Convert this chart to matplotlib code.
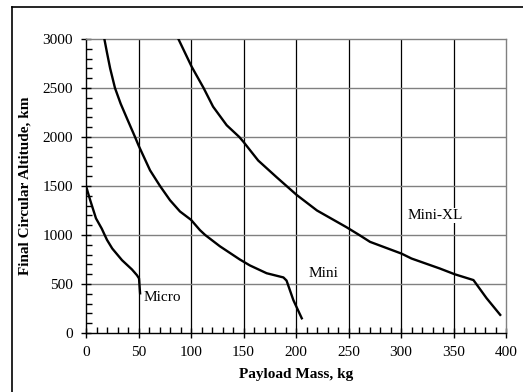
import matplotlib
matplotlib.use('Agg')
import matplotlib.pyplot as plt
from matplotlib.lines import Line2D
from matplotlib.ticker import MultipleLocator

plt.rcParams['font.family'] = ['Liberation Serif', 'DejaVu Serif']

# payload mass (kg) vs final circular altitude (km)
micro_x = [0, 4, 9.5, 15, 17.8, 20, 25, 34.3, 43.8, 48.5, 50.5, 51, 51.5]
micro_y = [1500, 1355, 1170, 1065, 1000, 950, 862, 743, 648, 590, 557, 480, 405]

mini_x = [17.5, 20, 23, 27.6, 33, 39, 46.7, 50, 61, 70.5, 80, 89.5, 100,
          108.5, 113.5, 127.5, 146.5, 156, 172, 188, 191, 197.5, 205.5]
mini_y = [3000, 2860, 2700, 2500, 2340, 2190, 2000, 1915, 1660, 1500, 1355,
          1240, 1155, 1050, 1000, 885, 750, 690, 610, 567, 535, 335, 150]

minixl_x = [88, 100.5, 112, 121, 134, 146, 150, 164, 181.5, 191, 200.5, 220,
            248, 261, 270.5, 300.5, 310, 337, 351, 369, 381.5, 394.5]
minixl_y = [3000, 2720, 2500, 2310, 2120, 2000, 1950, 1760, 1590, 1500, 1410,
            1250, 1080, 995, 930, 810, 760, 658, 600, 540, 355, 185]

labels = ['Micro', 'Mini', 'Mini-XL']
label_pos = [(55, 365), (226, 610), (333, 1200)]

fig = plt.figure(figsize=(5.23, 3.92), dpi=100)
ax = fig.add_axes([86 / 523, 1 - 333 / 392, 420 / 523, 294 / 392])

# grid: black verticals, grey horizontals
for gx in range(50, 400, 50):
    ax.axvline(gx, color='black', lw=0.9, zorder=1)
for gy in range(500, 3000, 500):
    ax.axhline(gy, color='#808080', lw=1.0, zorder=1)

for xs, ys in [(micro_x, micro_y), (mini_x, mini_y), (minixl_x, minixl_y)]:
    ax.plot(xs, ys, color='black', lw=1.7, zorder=3)

for name, (tx, ty) in zip(labels, label_pos):
    ax.text(tx, ty, name, fontsize=11, ha='left' if name == 'Micro' else 'center',
            va='center', zorder=2,
            bbox=dict(facecolor='white', edgecolor='none', pad=1))

ax.set_xlim(0, 400)
ax.set_ylim(0, 3000)
ax.xaxis.set_major_locator(MultipleLocator(50))
ax.xaxis.set_minor_locator(MultipleLocator(10))
ax.yaxis.set_major_locator(MultipleLocator(500))
ax.yaxis.set_minor_locator(MultipleLocator(100))
ax.tick_params(which='major', direction='inout', length=7, width=1,
               labelsize=11, pad=6)
ax.tick_params(which='minor', direction='in', length=4, width=1)

for s in ['left', 'bottom']:
    ax.spines[s].set_color('black')
    ax.spines[s].set_linewidth(1.0)
for s in ['top', 'right']:
    ax.spines[s].set_color('#808080')
    ax.spines[s].set_linewidth(1.0)

ax.set_xlabel('Payload Mass, kg', fontsize=11, fontweight='bold', labelpad=6)
ax.set_ylabel('Final Circular Altitude, km', fontsize=11, fontweight='bold',
              labelpad=8)

# outer frame (only left and top edges show in the picture)
fig.add_artist(Line2D([12 / 523, 12 / 523], [0, 1 - 7 / 392], color='black', lw=1.2))
fig.add_artist(Line2D([12 / 523, 1], [1 - 7 / 392, 1 - 7 / 392], color='black', lw=1.2))

fig.savefig('out.png', dpi=100)
